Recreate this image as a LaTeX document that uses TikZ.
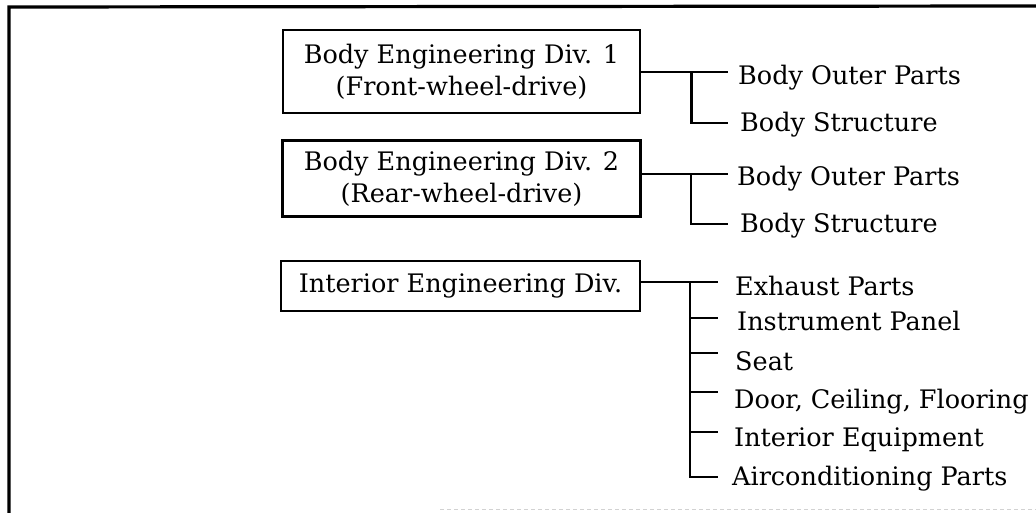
\documentclass[tikz,border=0pt]{standalone}
\usepackage{fontspec}
\setmainfont{DejaVu Serif}
\begin{document}
\begin{tikzpicture}[x=1pt,y=-1pt,
  frame/.style={line width=3.2pt,line join=miter},
  divbox/.style={draw,line width=2.8pt,align=center,inner sep=0pt,
    font=\fontsize{25.5}{32}\selectfont},
  lab/.style={anchor=base west,inner sep=0pt,font=\fontsize{25.5}{30}\selectfont},
  conn/.style={line width=2.3pt}]
\useasboundingbox (0,0) rectangle (1036,513);
% frame
\draw[frame] (9,513) -- (9,7) -- (1036,6);
\draw[gray!35,line width=1pt,dash pattern=on 4pt off 3pt] (440,509) -- (1036,509);
% boxes
\node[divbox,minimum width=357pt,minimum height=83pt] (b1) at (461.5,71.5)
  {Body Engineering Div. 1\\(Front-wheel-drive)};
\node[divbox,minimum width=358pt,minimum height=76pt] (b2) at (461.5,178.5)
  {Body Engineering Div. 2\\(Rear-wheel-drive)};
\node[divbox,minimum width=359pt,minimum height=50pt] (b3) at (460.5,286)
  {Interior Engineering Div.};
% labels
\node[lab] (l1a) at (738,84.3) {Body Outer Parts};
\node[lab] (l1b) at (740,131.7) {Body Structure};
\node[lab] (l2a) at (737,186) {Body Outer Parts};
\node[lab] (l2b) at (740,233) {Body Structure};
\node[lab] (l3a) at (735,295) {Exhaust Parts};
\node[lab] (l3b) at (737,330.7) {Instrument Panel};
\node[lab] (l3c) at (735,370) {Seat};
\node[lab] (l3d) at (734,408) {Door, Ceiling, Flooring};
\node[lab] (l3e) at (734,446.7) {Interior Equipment};
\node[lab] (l3f) at (732,485) {Airconditioning Parts};
% connector points
\coordinate (j1) at (691.5,71.7);
\coordinate (e1a) at (728,71.7);
\coordinate (e1b) at (728,123.3);
\coordinate (j2) at (690.7,174);
\coordinate (e2a) at (728,174);
\coordinate (e2b) at (728,224.3);
\coordinate (j3) at (690,281.7);
\coordinate (e3a) at (718,281.7);
\coordinate (e3b) at (718,318.3);
\coordinate (e3c) at (718,353.3);
\coordinate (e3d) at (718,391.7);
\coordinate (e3e) at (718,431.7);
\coordinate (e3f) at (718,476.7);
% connectors
\draw[conn] (b1.east |- j1) -- (e1a);
\draw[conn] (j1) |- (e1b);
\draw[conn] (b2.east |- j2) -- (e2a);
\draw[conn] (j2) |- (e2b);
\draw[conn] (b3.east |- j3) -- (e3a);
\draw[conn] (j3) |- (e3f);
\foreach \e in {e3b,e3c,e3d,e3e} \draw[conn] (j3 |- \e) -- (\e);
\end{tikzpicture}
\end{document}
